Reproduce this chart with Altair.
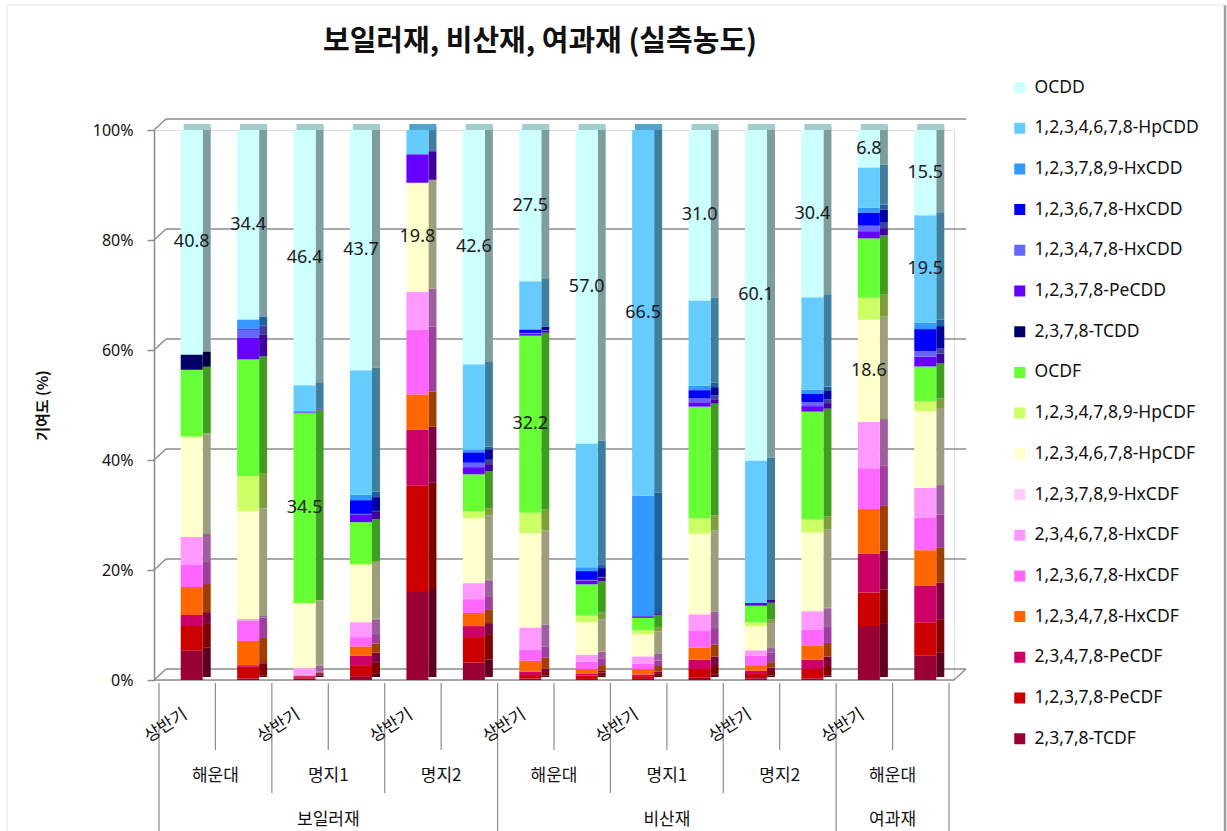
import altair as alt
import pandas as pd

# ---- bar identities -------------------------------------------------------
materials = ["보일러재"] * 6 + ["비산재"] * 6 + ["여과재"] * 2
sites = ["해운대", "해운대", "명지1", "명지1", "명지2", "명지2",
         "해운대", "해운대", "명지1", "명지1", "명지2", "명지2",
         "해운대", "해운대"]
periods = ["상반기", "하반기"] * 7

# ---- congener contribution (%) per bar, listed bottom of the stack first ---
tcdf_2378 = [5.4, 0.3, 0.3, 0.7, 16.0, 3.2, 0.3, 0.2, 0.2, 0.4, 0.3, 0.3, 9.8, 4.4]
pecdf_12378 = [4.4, 2.1, 0.2, 2.0, 19.4, 4.6, 0.6, 0.6, 0.5, 1.6, 0.8, 1.7, 6.1, 6.1]
pecdf_23478 = [2.0, 0.3, 0.2, 1.7, 10.1, 2.0, 0.6, 0.3, 0.3, 1.7, 0.6, 1.7, 7.1, 6.7]
hxcdf_123478 = [5.1, 4.4, 0.1, 1.7, 6.4, 2.4, 2.0, 0.9, 1.0, 2.2, 1.0, 2.5, 8.1, 6.4]
hxcdf_123678 = [4.0, 3.7, 0.2, 1.7, 11.8, 2.5, 2.0, 1.3, 1.0, 3.0, 1.7, 2.9, 7.4, 5.9]
hxcdf_234678 = [5.1, 0.3, 1.1, 2.7, 6.9, 2.9, 4.0, 1.3, 1.3, 3.0, 1.0, 3.4, 8.4, 5.4]
hxcdf_123789 = [0.0, 0.0, 0.1, 0.1, 0.0, 0.1, 0.1, 0.0, 0.0, 0.1, 0.0, 0.1, 0.0, 0.0]
hpcdf_1234678 = [18.1, 19.6, 11.7, 10.3, 19.8, 11.7, 17.1, 5.9, 4.0, 14.6, 4.4, 14.2, 18.6, 14.0]
hpcdf_1234789 = [0.2, 6.4, 0.1, 0.2, 0.0, 1.3, 3.7, 1.2, 0.8, 2.8, 0.7, 2.4, 4.0, 1.8]
ocdf = [12.1, 21.2, 34.5, 7.6, 0.0, 6.7, 32.2, 5.7, 2.2, 20.3, 3.0, 19.6, 10.8, 6.3]
tcdd_2378 = [2.8, 0.0, 0.0, 0.0, 0.0, 0.0, 0.0, 0.0, 0.0, 0.0, 0.0, 0.0, 0.0, 0.0]
pecdd_12378 = [0.0, 3.9, 0.1, 1.3, 5.2, 1.3, 0.4, 0.7, 0.3, 0.8, 0.5, 1.0, 1.3, 1.8]
hxcdd_123478 = [0.0, 1.5, 0.1, 0.2, 0.0, 0.8, 0.1, 0.1, 0.0, 0.7, 0.0, 0.7, 1.0, 1.0]
hxcdd_123678 = [0.0, 0.2, 0.1, 2.5, 0.0, 1.9, 0.6, 1.6, 0.0, 1.5, 0.0, 1.5, 2.4, 4.0]
hxcdd_123789 = [0.0, 1.6, 0.1, 1.0, 0.0, 0.5, 0.1, 0.7, 21.9, 0.8, 0.0, 0.8, 0.9, 1.2]
hpcdd_1234678 = [0.0, 0.1, 4.7, 22.6, 4.4, 15.5, 8.7, 22.5, 66.5, 15.5, 25.9, 16.8, 7.3, 19.5]
ocdd = [40.8, 34.4, 46.4, 43.7, 0.0, 42.6, 27.5, 57.0, 0.0, 31.0, 60.1, 30.4, 6.8, 15.5]

series = [
    ("2,3,7,8-TCDF", tcdf_2378, "#990033"),
    ("1,2,3,7,8-PeCDF", pecdf_12378, "#CC0000"),
    ("2,3,4,7,8-PeCDF", pecdf_23478, "#CC0066"),
    ("1,2,3,4,7,8-HxCDF", hxcdf_123478, "#FF6600"),
    ("1,2,3,6,7,8-HxCDF", hxcdf_123678, "#FF66FF"),
    ("2,3,4,6,7,8-HxCDF", hxcdf_234678, "#FF99FF"),
    ("1,2,3,7,8,9-HxCDF", hxcdf_123789, "#FFCCFF"),
    ("1,2,3,4,6,7,8-HpCDF", hpcdf_1234678, "#FFFFCC"),
    ("1,2,3,4,7,8,9-HpCDF", hpcdf_1234789, "#CCFF66"),
    ("OCDF", ocdf, "#66FF33"),
    ("2,3,7,8-TCDD", tcdd_2378, "#000066"),
    ("1,2,3,7,8-PeCDD", pecdd_12378, "#6600FF"),
    ("1,2,3,4,7,8-HxCDD", hxcdd_123478, "#6666FF"),
    ("1,2,3,6,7,8-HxCDD", hxcdd_123678, "#0000FF"),
    ("1,2,3,7,8,9-HxCDD", hxcdd_123789, "#3399FF"),
    ("1,2,3,4,6,7,8-HpCDD", hpcdd_1234678, "#66CCFF"),
    ("OCDD", ocdd, "#CCFFFF"),
]

# segments that carry a value label: (bar index, congener)
labelled = [(0, "OCDD"), (1, "OCDD"), (2, "OCDD"), (2, "OCDF"), (3, "OCDD"),
            (4, "1,2,3,4,6,7,8-HpCDF"), (5, "OCDD"), (6, "OCDD"), (6, "OCDF"),
            (7, "OCDD"), (8, "1,2,3,4,6,7,8-HpCDD"), (9, "OCDD"), (10, "OCDD"),
            (11, "OCDD"), (12, "OCDD"), (12, "1,2,3,4,6,7,8-HpCDF"),
            (13, "OCDD"), (13, "1,2,3,4,6,7,8-HpCDD")]

y_ticks = [0, 20, 40, 60, 80, 100]

title_text = "보일러재, 비산재, 여과재 (실측농도)"
y_title = "기여도 (%)"

KR = "Noto Sans CJK KR"
LAT = "Noto Sans, Noto Sans CJK KR"


def shade(hex_color, f):
    r, g, b = (int(hex_color[k:k + 2], 16) for k in (1, 3, 5))
    return "#{:02x}{:02x}{:02x}".format(*(min(255, int(round(c * f))) for c in (r, g, b)))


# ---- tables ---------------------------------------------------------------
rows = []
for order, (name, vals, _) in enumerate(series):
    for i, v in enumerate(vals):
        rows.append({"i": i, "congener": name, "order": order, "value": v,
                     "label": (i, name) in labelled})
df = pd.DataFrame(rows)

bars = pd.DataFrame({"i": range(len(sites)), "material": materials,
                     "site": sites, "period": periods})

# boundaries between bars: long between materials, medium between sites
sep_rows = []
for k in range(len(sites) + 1):
    if k == 0 or k == len(sites) or materials[k] != materials[k - 1]:
        level = "long"
    elif sites[k] != sites[k - 1]:
        level = "mid"
    else:
        level = "short"
    sep_rows.append({"pos": k - 0.5, "level": level})
seps = pd.DataFrame(sep_rows)

legend_order = [s[0] for s in series][::-1]
front_colors = [s[2] for s in series][::-1]
side_colors = [shade(c, 0.62) for c in front_colors]
top_colors = [shade(c, 0.8) for c in front_colors]

W, H = 800, 550
x_scale = alt.Scale(domain=[-0.5, len(sites) - 0.5])
y_scale = alt.Scale(domain=[0, 100])
X = alt.X("i:Q", scale=x_scale, axis=None)

# one shared y axis, given to every layer that uses the y scale
y_axis = alt.Axis(
    values=y_ticks, labelExpr="datum.value + '%'", grid=False,
    domainColor="#8c8c8c", domainWidth=1.5, tickColor="#8c8c8c", tickSize=7,
    tickWidth=1.5, labelFont=LAT, labelFontSize=16, labelColor="#111",
    labelPadding=14, title=y_title, titleFont=KR, titleFontSize=15,
    titleFontWeight="bold", titleColor="#111", titleAngle=270, titleX=-112,
    titleY=H / 2, titleAlign="center", titleBaseline="middle")


def Y(field):
    return alt.Y(field, scale=y_scale, axis=y_axis)


stacked = alt.Chart(df).transform_stack(
    stack="value", groupby=["i"], as_=["y0", "y1"],
    sort=[alt.SortField("order", order="ascending")],
)

# ---- back wall grid and floor --------------------------------------------
grid_src = alt.Chart(pd.DataFrame({"v": y_ticks}))
grid = grid_src.mark_rule(color="#8c8c8c", strokeWidth=1.5, yOffset=-11).encode(
    y=Y("v:Q"), x=alt.value(12), x2=alt.value(W + 12))
grid_slant = grid_src.mark_rule(color="#8c8c8c", strokeWidth=1.5, y2Offset=-11).encode(
    y=Y("v:Q"), y2="v:Q", x=alt.value(0), x2=alt.value(12))
floor_front = grid_src.transform_filter("datum.v == 0").mark_rule(
    color="#8c8c8c", strokeWidth=1.5).encode(
    y=Y("v:Q"), x=alt.value(0), x2=alt.value(W))
floor_side = grid_src.transform_filter("datum.v == 0").mark_rule(
    color="#8c8c8c", strokeWidth=1.5, y2Offset=-11).encode(
    y=Y("v:Q"), y2="v:Q", x=alt.value(W), x2=alt.value(W + 12))

# ---- category separators below the floor ---------------------------------
sep_layers = []
for level, bottom in (("short", 620), ("mid", 663), ("long", 701)):
    sep_layers.append(
        alt.Chart(seps).transform_filter(alt.datum.level == level)
        .mark_rule(color="#8c8c8c", strokeWidth=1.2)
        .encode(x=alt.X("pos:Q", scale=x_scale, axis=None),
                y=alt.value(H + 3), y2=alt.value(bottom)))

# ---- 3D-looking stacked bars ---------------------------------------------
side = stacked.mark_bar(size=8, xOffset=19.5, yOffset=-3, y2Offset=-3).encode(
    x=X, y=Y("y0:Q"), y2="y1:Q",
    color=alt.Color("congener:N", scale=alt.Scale(domain=legend_order, range=side_colors),
                    legend=None))

top = stacked.transform_filter("datum.y1 >= 99.95 && datum.value > 0").mark_bar(
    size=27, xOffset=9.9, yOffset=-6).encode(
    x=X, y=Y("y1:Q"), y2="y1:Q",
    color=alt.Color("congener:N", scale=alt.Scale(domain=legend_order, range=top_colors),
                    legend=None))

front = stacked.mark_bar(size=22, xOffset=4.5).encode(
    x=X, y=Y("y0:Q"), y2="y1:Q",
    color=alt.Color("congener:N", scale=alt.Scale(domain=legend_order, range=front_colors),
                    legend=alt.Legend(
                        title=None, orient="none", legendX=857, legendY=-51,
                        symbolType="square", symbolSize=121, symbolStrokeWidth=0,
                        labelFont=LAT, labelFontSize=17.5, labelColor="#111",
                        labelOffset=6, rowPadding=22.7, clipHeight=17, padding=0,
                        labelLimit=260)),
)

values_text = stacked.transform_filter("datum.label").transform_calculate(
    mid="(datum.y0 + datum.y1) / 2").mark_text(
    font=LAT, fontSize=18, color="#1a1a1a", dx=4.5).encode(
    x=X, y=Y("mid:Q"), text=alt.Text("value:Q", format=".1f"))

# ---- multi-level category labels -----------------------------------------
period_text = alt.Chart(bars).transform_filter("datum.i % 2 == 0").mark_text(
    font=KR, fontSize=17, color="#111", angle=327, align="right",
    baseline="middle", dx=-2).encode(
    x=X, y=alt.value(H + 32), text="period:N")

site_text = alt.Chart(bars).transform_aggregate(
    mid="mean(i)", groupby=["material", "site"]).mark_text(
    font=KR, fontSize=17, color="#111", baseline="middle").encode(
    x=alt.X("mid:Q", scale=x_scale, axis=None), y=alt.value(H + 96), text="site:N")

material_text = alt.Chart(bars).transform_aggregate(
    mid="mean(i)", groupby=["material"]).mark_text(
    font=KR, fontSize=17, color="#111", baseline="middle").encode(
    x=alt.X("mid:Q", scale=x_scale, axis=None), y=alt.value(H + 140), text="material:N")

# ---- chart title and frame -----------------------------------------------
one = alt.Chart(pd.DataFrame({"t": [title_text]}))
title = one.mark_text(font=KR, fontSize=29, fontWeight="bold", color="#111",
                      baseline="middle").encode(
    x=alt.value(386), y=alt.value(-88), text="t:N")
frame_right = one.mark_rule(color="#a0a0a0", strokeWidth=2.5).encode(
    x=alt.value(1071), y=alt.value(-125), y2=alt.value(H + 151))
frame_top = one.mark_rule(color="#ececec", strokeWidth=1.5).encode(
    x=alt.value(-147), x2=alt.value(1071), y=alt.value(-125))
frame_left = one.mark_rule(color="#ececec", strokeWidth=1.5).encode(
    x=alt.value(-147), y=alt.value(-125), y2=alt.value(H + 151))

chart = alt.layer(
    grid, grid_slant, floor_front, floor_side, *sep_layers,
    side, top, front, values_text, period_text, site_text, material_text,
    title, frame_right, frame_top, frame_left,
).resolve_scale(color="independent").properties(
    width=W, height=H,
    autosize=alt.AutoSizeParams(type="none"),
    padding={"left": 154, "top": 130, "right": 273, "bottom": 151},
).configure_view(stroke=None).configure(background="white")

chart.save("out.html", embed_options={"renderer": "svg", "actions": False})
